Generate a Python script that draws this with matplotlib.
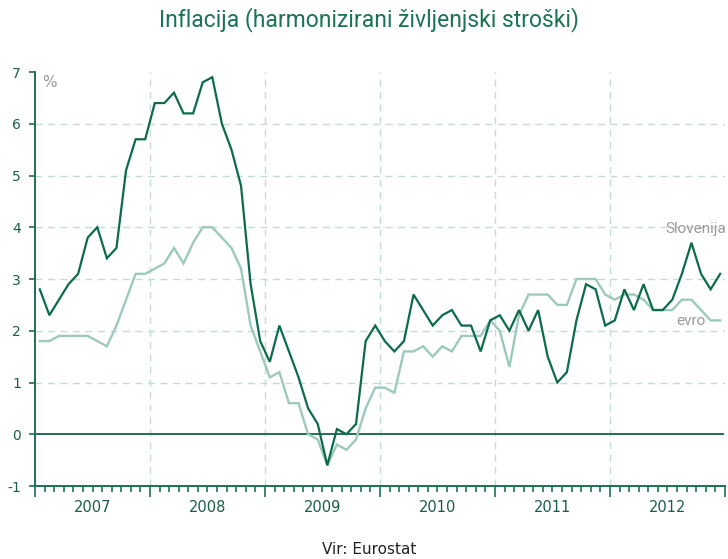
import matplotlib
matplotlib.use("Agg")
from matplotlib import pyplot as plt
from matplotlib import font_manager

# monthly HICP inflation, Jan 2007 - Dec 2012 (%)
years = ["2007", "2008", "2009", "2010", "2011", "2012"]

slovenija = [2.8, 2.3, 2.6, 2.9, 3.1, 3.8, 4.0, 3.4, 3.6, 5.1, 5.7, 5.7,
             6.4, 6.4, 6.6, 6.2, 6.2, 6.8, 6.9, 6.0, 5.5, 4.8, 2.9, 1.8,
             1.4, 2.1, 1.6, 1.1, 0.5, 0.2, -0.6, 0.1, 0.0, 0.2, 1.8, 2.1,
             1.8, 1.6, 1.8, 2.7, 2.4, 2.1, 2.3, 2.4, 2.1, 2.1, 1.6, 2.2,
             2.3, 2.0, 2.4, 2.0, 2.4, 1.5, 1.0, 1.2, 2.2, 2.9, 2.8, 2.1,
             2.2, 2.8, 2.4, 2.9, 2.4, 2.4, 2.6, 3.1, 3.7, 3.1, 2.8, 3.1]

evro = [1.8, 1.8, 1.9, 1.9, 1.9, 1.9, 1.8, 1.7, 2.1, 2.6, 3.1, 3.1,
        3.2, 3.3, 3.6, 3.3, 3.7, 4.0, 4.0, 3.8, 3.6, 3.2, 2.1, 1.6,
        1.1, 1.2, 0.6, 0.6, 0.0, -0.1, -0.6, -0.2, -0.3, -0.1, 0.5, 0.9,
        0.9, 0.8, 1.6, 1.6, 1.7, 1.5, 1.7, 1.6, 1.9, 1.9, 1.9, 2.2,
        2.0, 1.3, 2.3, 2.7, 2.7, 2.7, 2.5, 2.5, 3.0, 3.0, 3.0, 2.7,
        2.6, 2.7, 2.7, 2.6, 2.4, 2.4, 2.4, 2.6, 2.6, 2.4, 2.2, 2.2]

DARK = "#0b6b4b"
LIGHT = "#9ccab9"
GRID = "#c3ddd4"
AXIS = "#1f6e56"
GRAY = "#9a9a9a"
TXT = "#1a5e48"

# narrow font if there is one
names = set(f.name for f in font_manager.fontManager.ttflist)
NARROW = "Liberation Sans Narrow" if "Liberation Sans Narrow" in names else "Roboto"

fig = plt.figure(figsize=(7.28, 5.59), dpi=100)
ax = fig.add_axes([35 / 728, 1 - 486 / 559, 690 / 728, 414 / 559])

x = [i + 0.5 for i in range(len(slovenija))]
ax.plot(x, evro, color=LIGHT, lw=1.7, solid_joinstyle="miter", zorder=3)
ax.plot(x, slovenija, color=DARK, lw=1.6, solid_joinstyle="miter", zorder=4)

# zero line
ax.plot([0, 71.8], [0, 0], color=AXIS, lw=1.4, zorder=2)

ax.set_xlim(0, 72)
ax.set_ylim(-1, 7)

# grid
for yv in range(1, 7):
    ax.axhline(yv, color=GRID, lw=1, ls=(0, (5, 4)), zorder=1)
for k in range(1, 6):
    ax.axvline(12 * k, color=GRID, lw=1, ls=(0, (5, 4)), zorder=1)

# spines
for s in ["top", "right"]:
    ax.spines[s].set_visible(False)
for s in ["left", "bottom"]:
    ax.spines[s].set_color(AXIS)
    ax.spines[s].set_linewidth(1.4)

ax.set_yticks(range(-1, 8))
ax.set_yticklabels([str(v) for v in range(-1, 8)])
ax.tick_params(axis="y", length=4, width=1.2, color=AXIS, labelsize=10,
               labelcolor=TXT, pad=6)

ax.set_xticks([12 * k for k in range(7)])
ax.set_xticks(range(73), minor=True)
ax.set_xticklabels([])
ax.tick_params(axis="x", which="major", length=8, width=1.2, color=AXIS)
ax.tick_params(axis="x", which="minor", length=4, width=1.2, color=AXIS)

for k, yr in enumerate(years):
    ax.text(12 * k + 6, -1.42, yr, ha="center", va="center", fontsize=10.5,
            color=TXT)

ax.text(0.7, 6.8, "%", ha="left", va="center", fontsize=11, color=GRAY)
ax.text(72.1, 3.97, "Slovenija", ha="right", va="center", fontsize=11,
        color=GRAY, family=NARROW)
ax.text(66.9, 2.19, "evro", ha="left", va="center", fontsize=11,
        color=GRAY, family=NARROW)

fig.text(369 / 728, 1 - 20 / 559, "Inflacija (harmonizirani življenjski stroški)",
         ha="center", va="center", fontsize=16.5, color="#1a7357",
         family=NARROW)
fig.text(369 / 728, 1 - 549 / 559, "Vir: Eurostat", ha="center", va="center",
         fontsize=11, color="#222222")

fig.savefig("out.png", dpi=100)
